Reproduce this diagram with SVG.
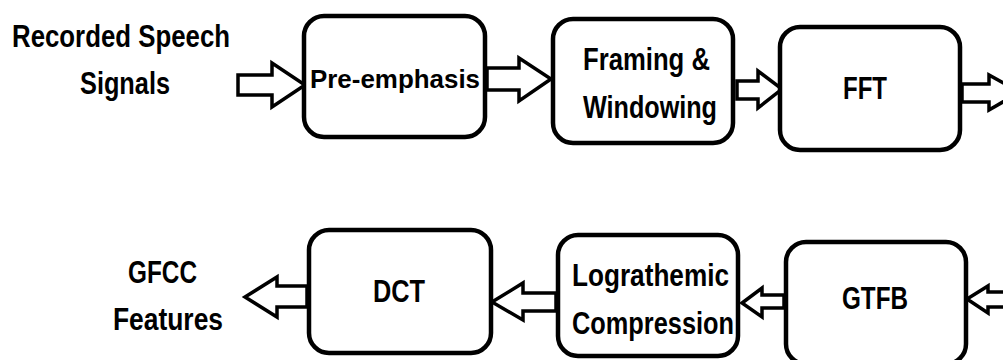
<svg xmlns="http://www.w3.org/2000/svg" width="1003" height="360" viewBox="0 0 1003 360">
<style>
.box{fill:#fff;stroke:#000;stroke-width:4.5}
.arr{fill:#fff;stroke:#000;stroke-width:3.5;stroke-linejoin:miter}
text{font-family:"Liberation Sans",Arial,sans-serif;font-weight:bold;fill:#000;text-anchor:middle}
.l{font-size:31px}
.b{font-size:31px}
</style>
<rect width="1003" height="360" fill="#fff"/>
<g id="connectors">
<polygon class="arr" points="238,75 272,75 272,63 305,85 272,107 272,95 238,95"/>
<polygon class="arr" points="487,68 519,68 519,58 551,79 519,101 519,90 487,90"/>
<polygon class="arr" points="737,81 758,81 758,71 782,89 758,108 758,99 737,99"/>
<polygon class="arr" points="962,84 989,84 989,75 1020,92 989,110 989,102 962,102"/>
<polygon class="arr" points="307,286 277,286 277,277 245,297 277,317 277,307 307,307"/>
<polygon class="arr" points="556,293 523,293 523,283 492,302 523,320 523,311 556,311"/>
<polygon class="arr" points="784,295 762,295 762,288 742,303 762,317 762,308 784,308"/>
<polygon class="arr" points="1010,292 988,292 988,286 967,299 988,313 988,307 1010,307"/>
</g>
<g id="input-label">
<text class="l" x="121" y="47" textLength="218" lengthAdjust="spacingAndGlyphs">Recorded Speech</text>
<text class="l" x="125" y="94" textLength="90" lengthAdjust="spacingAndGlyphs">Signals</text>
</g>
<g id="node-preemphasis">
<rect class="box" x="304" y="16" width="181" height="121" rx="20"/>
<text x="395" y="88" font-size="26" textLength="170" lengthAdjust="spacingAndGlyphs">Pre-emphasis</text>
</g>
<g id="node-framing">
<rect class="box" x="553" y="19" width="180" height="124" rx="20"/>
<text class="b" x="646.5" y="70" textLength="127" lengthAdjust="spacingAndGlyphs">Framing &amp;</text>
<text class="b" x="650" y="118" textLength="134" lengthAdjust="spacingAndGlyphs">Windowing</text>
</g>
<g id="node-fft">
<rect class="box" x="780" y="27" width="180" height="123" rx="20"/>
<text class="b" x="865" y="99" textLength="44" lengthAdjust="spacingAndGlyphs">FFT</text>
</g>
<g id="output-label">
<text class="l" x="162.5" y="283" textLength="69" lengthAdjust="spacingAndGlyphs">GFCC</text>
<text class="l" x="168" y="330" textLength="110" lengthAdjust="spacingAndGlyphs">Features</text>
</g>
<g id="node-dct">
<rect class="box" x="309" y="230" width="182" height="123" rx="20"/>
<text class="b" x="399" y="302" textLength="52" lengthAdjust="spacingAndGlyphs">DCT</text>
</g>
<g id="node-log">
<rect class="box" x="558" y="235" width="180" height="121" rx="20"/>
<text class="b" x="650.5" y="286" textLength="157" lengthAdjust="spacingAndGlyphs">Lograthemic</text>
<text class="b" x="653" y="334" textLength="162" lengthAdjust="spacingAndGlyphs">Compression</text>
</g>
<g id="node-gtfb">
<rect class="box" x="786" y="242" width="180" height="122" rx="20"/>
<text class="b" x="875" y="309" textLength="66" lengthAdjust="spacingAndGlyphs">GTFB</text>
</g>
</svg>
